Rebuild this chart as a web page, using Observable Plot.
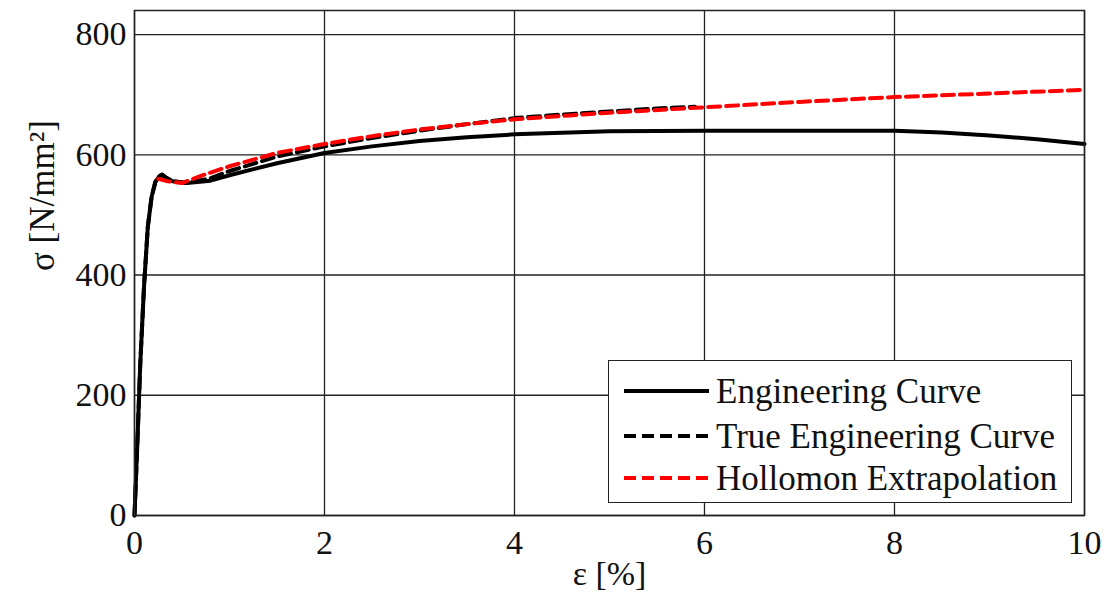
<!DOCTYPE html>
<html>
<head>
<meta charset="utf-8">
<script src="https://cdn.jsdelivr.net/npm/d3@7"></script>
<script src="https://cdn.jsdelivr.net/npm/@observablehq/plot@0.6"></script>
<style>
  html, body { margin: 0; padding: 0; background: #fff; }
  #wrap { position: relative; width: 1112px; height: 603px; font-family: "Liberation Serif", "Times New Roman", Times, serif; }
  #legend {
    position: absolute; left: 608px; top: 360px; width: 462px; height: 141px;
    border: 1.5px solid #222; background: #fff; box-sizing: content-box;
  }
  #legend .row { position: absolute; left: 0; height: 40px; display: flex; align-items: center; }
  #legend .row span { font-family: "Liberation Serif", "Times New Roman", Times, serif; font-size: 35px; color: #111; margin-left: 7px; white-space: nowrap; line-height: 1; }
  #legend svg { display: block; }
  svg.plot-chart text { font-family: "Liberation Serif", "Times New Roman", Times, serif; }
</style>
</head>
<body>
<div id="wrap"></div>
<script>
// Strain ε [%] and stress σ [N/mm²] for each curve
const engineeringStrain = [0, 0.03, 0.06, 0.1, 0.14, 0.18, 0.22, 0.26, 0.29, 0.33, 0.4, 0.55, 0.8, 1.0, 1.5, 2.0, 2.5, 3, 3.5, 4, 5, 6, 7, 8, 8.5, 9, 9.5, 10];
const engineeringStress = [0, 120, 250, 380, 480, 530, 555, 564, 567, 562, 556, 553, 557, 566, 586, 603, 614, 623, 629, 634, 639, 640, 640, 640, 637, 632, 626, 618];

const trueStrain = [0, 0.03, 0.06, 0.1, 0.14, 0.18, 0.22, 0.26, 0.29, 0.33, 0.4, 0.55, 0.8, 1.0, 1.5, 2, 2.5, 3, 3.5, 4, 4.5, 5, 5.5, 5.9];
const trueStress = [0, 120, 250, 380, 480, 530, 555, 564, 567, 562, 556, 553, 561, 573, 597, 614, 628, 640, 651, 661, 667, 672, 677, 680];

const hollomonStrain = [0.25, 0.35, 0.5, 0.7, 1, 1.5, 2, 2.5, 3, 3.5, 4, 5, 6, 7, 8, 9, 10];
const hollomonStress = [560, 556, 553, 565, 581, 603, 618, 631, 642, 651, 659, 670, 679, 688, 696, 702, 708];

const xTicks = [0, 2, 4, 6, 8, 10];
const yTicks = [0, 200, 400, 600, 800];

const seriesNames = ["Engineering Curve", "True Engineering Curve", "Hollomon Extrapolation"];
const seriesStyles = [
  {stroke: "#000", dash: null},
  {stroke: "#000", dash: "12,6"},
  {stroke: "#ff0000", dash: "12,6"}
];

const toRows = (xs, ys) => xs.map((x, i) => ({x, y: ys[i]}));
const engineering = toRows(engineeringStrain, engineeringStress);
const trueCurve = toRows(trueStrain, trueStress);
const hollomon = toRows(hollomonStrain, hollomonStress);

const font = '"Liberation Serif", "Times New Roman", Times, serif';

const chart = Plot.plot({
  width: 1112,
  height: 603,
  marginLeft: 134,
  marginRight: 28,
  marginTop: 10,
  marginBottom: 88,
  className: "plot-chart",
  style: {fontFamily: font, fontSize: "34px", color: "#111", background: "#fff"},
  x: {domain: [0, 10], ticks: xTicks, label: null},
  y: {domain: [0, 840], ticks: yTicks, label: null},
  marks: [
    Plot.gridX(xTicks, {stroke: "#222", strokeOpacity: 1, strokeWidth: 1.3}),
    Plot.gridY(yTicks, {stroke: "#222", strokeOpacity: 1, strokeWidth: 1.3}),
    Plot.axisX(xTicks, {tickSize: 0, tickPadding: 14, fontSize: 34, label: null}),
    Plot.axisY(yTicks, {tickSize: 0, tickPadding: 8, fontSize: 34, label: null}),
    Plot.line(engineering, {x: "x", y: "y", stroke: seriesStyles[0].stroke, strokeWidth: 4}),
    Plot.line(trueCurve, {x: "x", y: "y", stroke: seriesStyles[1].stroke, strokeWidth: 4, strokeDasharray: seriesStyles[1].dash}),
    Plot.line(hollomon, {x: "x", y: "y", stroke: seriesStyles[2].stroke, strokeWidth: 4, strokeDasharray: seriesStyles[2].dash}),
    Plot.frame({stroke: "#222", strokeWidth: 1.5}),
    Plot.text(["ε [%]"], {frameAnchor: "bottom", dy: 69, fontSize: 34, fill: "#111"}),
    Plot.text(["σ [N/mm²]"], {frameAnchor: "left", dx: -92, dy: 8, rotate: -90, fontSize: 35, fill: "#111"})
  ]
});

const wrap = document.getElementById("wrap");
wrap.appendChild(chart);

// Legend box drawn over the lower-right of the plot
const legend = document.createElement("div");
legend.id = "legend";
const rowCenters = [30, 75, 117];
seriesNames.forEach((name, i) => {
  const row = document.createElement("div");
  row.className = "row";
  row.style.top = (rowCenters[i] - 20) + "px";
  row.style.left = "15px";
  const s = seriesStyles[i];
  row.innerHTML =
    `<svg width="85" height="40"><line x1="0" y1="20" x2="85" y2="20" stroke="${s.stroke}" stroke-width="4"${s.dash ? ` stroke-dasharray="${s.dash}"` : ""}/></svg>` +
    `<span>${name}</span>`;
  legend.appendChild(row);
});
wrap.appendChild(legend);
</script>
</body>
</html>
